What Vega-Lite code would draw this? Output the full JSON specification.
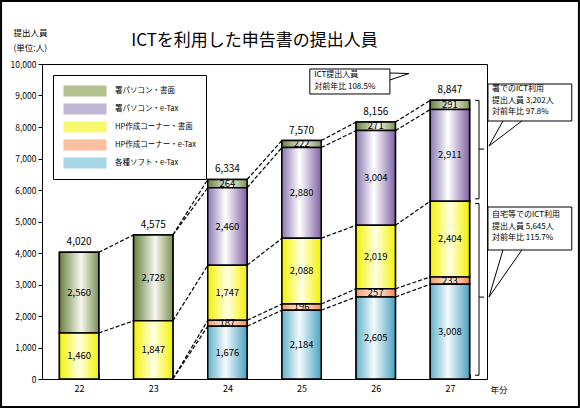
{
 "$schema": "https://vega.github.io/schema/vega-lite/v6.json",
 "width": 445, "height": 315,
 "autosize": "none",
 "padding": {"left": 42, "top": 64, "right": 93, "bottom": 29},
 "background": "white",
 "title": {"text": "ICTを利用した申告書の提出人員", "font": "Noto Sans CJK JP", "fontSize": 17, "fontWeight": "normal", "color": "black", "anchor": "middle", "frame": "group", "baseline": "bottom", "dx": -10, "dy": 71},
 "config": {
  "view": {"stroke": "black", "strokeWidth": 1},
  "font": "Noto Sans CJK JP",
  "text": {"font": "Noto Sans CJK JP", "color": "black"},
  "axis": {"domainColor": "black", "tickColor": "black", "labelColor": "black", "titleColor": "black", "labelFont": "Noto Sans CJK JP", "titleFont": "Noto Sans CJK JP", "grid": false}
 },
 "resolve": {"axis": {"x": "independent", "y": "independent"}},
 "datasets": {
  "bars": [
   {"year": "22", "署パソコン・書面": 2560, "HP作成コーナー・書面": 1460},
   {"year": "23", "署パソコン・書面": 2728, "HP作成コーナー・書面": 1847},
   {"year": "24", "各種ソフト・e-Tax": 1676, "HP作成コーナー・e-Tax": 187, "HP作成コーナー・書面": 1747, "署パソコン・e-Tax": 2460, "署パソコン・書面": 264},
   {"year": "25", "各種ソフト・e-Tax": 2184, "HP作成コーナー・e-Tax": 196, "HP作成コーナー・書面": 2088, "署パソコン・e-Tax": 2880, "署パソコン・書面": 222},
   {"year": "26", "各種ソフト・e-Tax": 2605, "HP作成コーナー・e-Tax": 257, "HP作成コーナー・書面": 2019, "署パソコン・e-Tax": 3004, "署パソコン・書面": 271},
   {"year": "27", "各種ソフト・e-Tax": 3008, "HP作成コーナー・e-Tax": 233, "HP作成コーナー・書面": 2404, "署パソコン・e-Tax": 2911, "署パソコン・書面": 291}
  ],
  "links": [
   {"from": "22", "to": "23", "a": 1460, "b": 1847},
   {"from": "22", "to": "23", "a": 4020, "b": 4575},
   {"from": "23", "to": "24", "a": 0, "b": 1676},
   {"from": "23", "to": "24", "a": 0, "b": 1863},
   {"from": "23", "to": "24", "a": 1847, "b": 3610},
   {"from": "23", "to": "24", "a": 4575, "b": 6070},
   {"from": "23", "to": "24", "a": 4575, "b": 6334},
   {"from": "24", "to": "25", "a": 1676, "b": 2184},
   {"from": "24", "to": "25", "a": 1863, "b": 2380},
   {"from": "24", "to": "25", "a": 3610, "b": 4468},
   {"from": "24", "to": "25", "a": 6070, "b": 7348},
   {"from": "24", "to": "25", "a": 6334, "b": 7570},
   {"from": "25", "to": "26", "a": 2184, "b": 2605},
   {"from": "25", "to": "26", "a": 2380, "b": 2862},
   {"from": "25", "to": "26", "a": 4468, "b": 4881},
   {"from": "25", "to": "26", "a": 7348, "b": 7885},
   {"from": "25", "to": "26", "a": 7570, "b": 8156},
   {"from": "26", "to": "27", "a": 2605, "b": 3008},
   {"from": "26", "to": "27", "a": 2862, "b": 3241},
   {"from": "26", "to": "27", "a": 4881, "b": 5645},
   {"from": "26", "to": "27", "a": 7885, "b": 8556},
   {"from": "26", "to": "27", "a": 8156, "b": 8847}
  ],
  "braces": [
   {"y0": 8847, "y1": 5720, "m": 7300},
   {"y0": 5570, "y1": 120, "m": 2600}
  ]
 },
 "layer": [
  {
   "data": {"name": "bars"},
   "transform": [
    {"fold": ["各種ソフト・e-Tax", "HP作成コーナー・e-Tax", "HP作成コーナー・書面", "署パソコン・e-Tax", "署パソコン・書面"], "as": ["series", "value"]},
    {"filter": {"field": "value", "valid": true}},
    {"stack": "value", "groupby": ["year"], "as": ["lo", "hi"]}
   ],
   "resolve": {"axis": {"x": "independent", "y": "independent"}},
   "layer": [
    {
     "mark": {"type": "bar", "stroke": "black", "strokeWidth": 1.5},
     "encoding": {
      "x": {"field": "year", "type": "ordinal", "title": "年分",
       "scale": {"paddingInner": 0.47, "paddingOuter": 0.235},
       "axis": {"title": "年分", "titleX": 448, "titleY": 10, "titleAlign": "left", "titleBaseline": "middle", "titleFontSize": 8.5, "titleFontWeight": "normal", "labelAngle": 0, "labelFontSize": 9, "tickBand": "extent", "tickSize": -5, "labelPadding": 10}},
      "y": {"field": "lo", "type": "quantitative",
       "scale": {"domain": [0, 10000], "nice": false},
       "axis": {"title": ["提出人員", "(単位:人)"], "titleAngle": 0, "titleAlign": "left", "titleBaseline": "middle", "titleX": -29, "titleY": -32, "titleFontSize": 8.5, "titleFontWeight": "normal", "titleLineHeight": 15, "format": ",.0f", "values": [0, 1000, 2000, 3000, 4000, 5000, 6000, 7000, 8000, 9000, 10000], "tickSize": 4, "labelPadding": 2, "labelFontSize": 8.5}},
      "y2": {"field": "hi"},
      "color": {"field": "series", "type": "nominal",
       "scale": {
        "domain": ["署パソコン・書面", "署パソコン・e-Tax", "HP作成コーナー・書面", "HP作成コーナー・e-Tax", "各種ソフト・e-Tax"],
        "range": ["#b4c290", "#c2b6d6", "#f8f870", "#f8c0a0", "#a8d6e4"]
       },
       "legend": {"orient": "none", "legendX": 11, "legendY": 11, "title": null, "symbolType": "M-4.3,-1.1H4.3V1.1H-4.3Z", "symbolSize": 100, "symbolStrokeColor": "black", "symbolStrokeWidth": 2, "symbolOffset": 16, "labelOffset": 24, "clipHeight": 12, "labelFont": "Noto Sans CJK JP", "labelFontSize": 7.5, "labelColor": "black", "rowPadding": 6, "padding": 10, "strokeColor": "black", "fillColor": "white",
        "encode": {"symbols": {"update": {"fill": [
         {"test": "datum.value === '署パソコン・書面'", "value": {"gradient": "linear", "x1": 0, "y1": 0, "x2": 1, "y2": 0, "stops": [{"offset": 0, "color": "#6a8040"}, {"offset": 0.55, "color": "#f6f7f0"}, {"offset": 1, "color": "#7d9150"}]}},
         {"test": "datum.value === '署パソコン・e-Tax'", "value": {"gradient": "linear", "x1": 0, "y1": 0, "x2": 1, "y2": 0, "stops": [{"offset": 0, "color": "#8a7ab2"}, {"offset": 0.45, "color": "#ffffff"}, {"offset": 1, "color": "#8062a4"}]}},
         {"test": "datum.value === 'HP作成コーナー・書面'", "value": {"gradient": "linear", "x1": 0, "y1": 0, "x2": 1, "y2": 0, "stops": [{"offset": 0, "color": "#f2f200"}, {"offset": 0.5, "color": "#ffffe6"}, {"offset": 1, "color": "#f2f200"}]}},
         {"test": "datum.value === 'HP作成コーナー・e-Tax'", "value": {"gradient": "linear", "x1": 0, "y1": 0, "x2": 1, "y2": 0, "stops": [{"offset": 0, "color": "#f29a68"}, {"offset": 0.5, "color": "#fff2ea"}, {"offset": 1, "color": "#f08a58"}]}},
         {"value": {"gradient": "linear", "x1": 0, "y1": 0, "x2": 1, "y2": 0, "stops": [{"offset": 0, "color": "#62b2cc"}, {"offset": 0.45, "color": "#f4fafc"}, {"offset": 1, "color": "#4aa2c2"}]}}
        ]}}}
       }
      }
     }
    },
    {
     "transform": [{"filter": {"field": "series", "equal": "署パソコン・書面"}}],
     "mark": {"type": "bar", "stroke": "black", "strokeWidth": 1.5, "fill": {"gradient": "linear", "x1": 0, "y1": 0, "x2": 1, "y2": 0, "stops": [{"offset": 0, "color": "#6a8040"}, {"offset": 0.55, "color": "#f6f7f0"}, {"offset": 1, "color": "#7d9150"}]}},
     "encoding": {"x": {"field": "year", "type": "ordinal", "axis": null}, "y": {"field": "lo", "type": "quantitative", "axis": null}, "y2": {"field": "hi"}}
    },
    {
     "transform": [{"filter": {"field": "series", "equal": "署パソコン・e-Tax"}}],
     "mark": {"type": "bar", "stroke": "black", "strokeWidth": 1.5, "fill": {"gradient": "linear", "x1": 0, "y1": 0, "x2": 1, "y2": 0, "stops": [{"offset": 0, "color": "#8a7ab2"}, {"offset": 0.45, "color": "#ffffff"}, {"offset": 1, "color": "#8062a4"}]}},
     "encoding": {"x": {"field": "year", "type": "ordinal", "axis": null}, "y": {"field": "lo", "type": "quantitative", "axis": null}, "y2": {"field": "hi"}}
    },
    {
     "transform": [{"filter": {"field": "series", "equal": "HP作成コーナー・書面"}}],
     "mark": {"type": "bar", "stroke": "black", "strokeWidth": 1.5, "fill": {"gradient": "linear", "x1": 0, "y1": 0, "x2": 1, "y2": 0, "stops": [{"offset": 0, "color": "#f2f200"}, {"offset": 0.5, "color": "#ffffe6"}, {"offset": 1, "color": "#f2f200"}]}},
     "encoding": {"x": {"field": "year", "type": "ordinal", "axis": null}, "y": {"field": "lo", "type": "quantitative", "axis": null}, "y2": {"field": "hi"}}
    },
    {
     "transform": [{"filter": {"field": "series", "equal": "HP作成コーナー・e-Tax"}}],
     "mark": {"type": "bar", "stroke": "black", "strokeWidth": 1.5, "fill": {"gradient": "linear", "x1": 0, "y1": 0, "x2": 1, "y2": 0, "stops": [{"offset": 0, "color": "#f29a68"}, {"offset": 0.5, "color": "#fff2ea"}, {"offset": 1, "color": "#f08a58"}]}},
     "encoding": {"x": {"field": "year", "type": "ordinal", "axis": null}, "y": {"field": "lo", "type": "quantitative", "axis": null}, "y2": {"field": "hi"}}
    },
    {
     "transform": [{"filter": {"field": "series", "equal": "各種ソフト・e-Tax"}}],
     "mark": {"type": "bar", "stroke": "black", "strokeWidth": 1.5, "fill": {"gradient": "linear", "x1": 0, "y1": 0, "x2": 1, "y2": 0, "stops": [{"offset": 0, "color": "#62b2cc"}, {"offset": 0.45, "color": "#f4fafc"}, {"offset": 1, "color": "#4aa2c2"}]}},
     "encoding": {"x": {"field": "year", "type": "ordinal", "axis": null}, "y": {"field": "lo", "type": "quantitative", "axis": null}, "y2": {"field": "hi"}}
    },
    {
     "transform": [{"fold": ["lo", "hi"], "as": ["edge", "pos"]}],
     "mark": {"type": "text", "fontSize": 9.5, "baseline": "middle"},
     "encoding": {
      "x": {"field": "year", "type": "ordinal", "axis": null},
      "y": {"aggregate": "mean", "field": "pos", "type": "quantitative", "stack": null, "axis": null},
      "detail": {"field": "series"},
      "text": {"field": "value", "type": "quantitative", "format": ","}
     }
    },
    {
     "mark": {"type": "text", "fontSize": 10, "baseline": "bottom", "dy": -5},
     "encoding": {
      "x": {"field": "year", "type": "ordinal", "axis": null},
      "y": {"aggregate": "sum", "field": "value", "type": "quantitative", "stack": null, "axis": null},
      "text": {"aggregate": "sum", "field": "value", "type": "quantitative", "format": ","}
     }
    }
   ]
  },
  {
   "data": {"name": "links"},
   "mark": {"type": "rule", "stroke": "black", "strokeWidth": 1.2, "strokeDash": [4, 2]},
   "encoding": {
    "x": {"field": "from", "type": "ordinal", "bandPosition": 1, "axis": null},
    "x2": {"field": "to", "bandPosition": 0},
    "y": {"field": "a", "type": "quantitative", "axis": null},
    "y2": {"field": "b"}
   }
  },
  {
   "data": {"name": "braces"},
   "mark": {"type": "rule", "stroke": "black", "strokeWidth": 1},
   "encoding": {"x": {"datum": "27", "type": "ordinal", "bandPosition": 1.24, "axis": null}, "y": {"field": "y0", "type": "quantitative", "axis": null}, "y2": {"field": "y1"}}
  },
  {
   "data": {"name": "braces"},
   "mark": {"type": "rule", "stroke": "black", "strokeWidth": 1},
   "encoding": {"x": {"datum": "27", "type": "ordinal", "bandPosition": 1.14, "axis": null}, "x2": {"datum": "27", "bandPosition": 1.24}, "y": {"field": "y0", "type": "quantitative", "axis": null}}
  },
  {
   "data": {"name": "braces"},
   "mark": {"type": "rule", "stroke": "black", "strokeWidth": 1},
   "encoding": {"x": {"datum": "27", "type": "ordinal", "bandPosition": 1.14, "axis": null}, "x2": {"datum": "27", "bandPosition": 1.24}, "y": {"field": "y1", "type": "quantitative", "axis": null}}
  },
  {
   "data": {"name": "braces"},
   "mark": {"type": "rule", "stroke": "black", "strokeWidth": 1},
   "encoding": {"x": {"datum": "27", "type": "ordinal", "bandPosition": 1.24, "axis": null}, "x2": {"datum": "27", "bandPosition": 1.37}, "y": {"field": "m", "type": "quantitative", "axis": null}}
  },
  {
   "data": {"values": [{}]},
   "mark": {"type": "rect", "fill": "white", "stroke": "black", "strokeWidth": 1},
   "encoding": {"x": {"datum": "25", "type": "ordinal", "bandPosition": 0.71, "axis": null}, "x2": {"datum": "26", "bandPosition": 0.86}, "y": {"datum": 9841, "type": "quantitative", "axis": null}, "y2": {"datum": 9048}}
  },
  {
   "data": {"values": [{}]},
   "mark": {"type": "text", "text": ["ICT提出人員", "対前年比  108.5%"], "align": "left", "baseline": "middle", "lineHeight": 12, "fontSize": 8},
   "encoding": {"x": {"datum": "25", "type": "ordinal", "bandPosition": 0.82, "axis": null}, "y": {"datum": 9635, "type": "quantitative", "axis": null}}
  },
  {
   "data": {"values": [{}]},
   "mark": {"type": "rule", "stroke": "black", "strokeWidth": 1},
   "encoding": {"x": {"datum": "26", "type": "ordinal", "bandPosition": 0.86, "axis": null}, "x2": {"datum": "26", "bandPosition": 1.345}, "y": {"datum": 9714, "type": "quantitative", "axis": null}, "y2": {"datum": 9698}}
  },
  {
   "data": {"values": [{}]},
   "mark": {"type": "rule", "stroke": "black", "strokeWidth": 1},
   "encoding": {"x": {"datum": "26", "type": "ordinal", "bandPosition": 0.86, "axis": null}, "x2": {"datum": "26", "bandPosition": 1.345}, "y": {"datum": 9492, "type": "quantitative", "axis": null}, "y2": {"datum": 9698}}
  },
  {
   "data": {"values": [{}]},
   "mark": {"type": "rect", "fill": "white", "stroke": "black", "strokeWidth": 1},
   "encoding": {"x": {"datum": "27", "type": "ordinal", "bandPosition": 1.468, "axis": null}, "x2": {"datum": "27", "bandPosition": 3.6}, "y": {"datum": 9365, "type": "quantitative", "axis": null}, "y2": {"datum": 8190}}
  },
  {
   "data": {"values": [{}]},
   "mark": {"type": "text", "text": ["署でのICT利用", "提出人員  3,202人", "対前年比  97.8%"], "align": "left", "baseline": "middle", "lineHeight": 11.5, "fontSize": 8},
   "encoding": {"x": {"datum": "27", "type": "ordinal", "bandPosition": 1.57, "axis": null}, "y": {"datum": 9206, "type": "quantitative", "axis": null}}
  },
  {
   "data": {"values": [{}]},
   "mark": {"type": "rule", "stroke": "black", "strokeWidth": 1},
   "encoding": {"x": {"datum": "27", "type": "ordinal", "bandPosition": 1.85, "axis": null}, "x2": {"datum": "27", "bandPosition": 1.494}, "y": {"datum": 8190, "type": "quantitative", "axis": null}, "y2": {"datum": 7397}}
  },
  {
   "data": {"values": [{}]},
   "mark": {"type": "rule", "stroke": "black", "strokeWidth": 1},
   "encoding": {"x": {"datum": "27", "type": "ordinal", "bandPosition": 2.33, "axis": null}, "x2": {"datum": "27", "bandPosition": 1.494}, "y": {"datum": 8190, "type": "quantitative", "axis": null}, "y2": {"datum": 7397}}
  },
  {
   "data": {"values": [{}]},
   "mark": {"type": "rect", "fill": "white", "stroke": "black", "strokeWidth": 1},
   "encoding": {"x": {"datum": "27", "type": "ordinal", "bandPosition": 1.468, "axis": null}, "x2": {"datum": "27", "bandPosition": 3.6}, "y": {"datum": 5460, "type": "quantitative", "axis": null}, "y2": {"datum": 4095}}
  },
  {
   "data": {"values": [{}]},
   "mark": {"type": "text", "text": ["自宅等でのICT利用", "提出人員  5,645人", "対前年比  115.7%"], "align": "left", "baseline": "middle", "lineHeight": 11.5, "fontSize": 8},
   "encoding": {"x": {"datum": "27", "type": "ordinal", "bandPosition": 1.57, "axis": null}, "y": {"datum": 5206, "type": "quantitative", "axis": null}}
  },
  {
   "data": {"values": [{}]},
   "mark": {"type": "rule", "stroke": "black", "strokeWidth": 1},
   "encoding": {"x": {"datum": "27", "type": "ordinal", "bandPosition": 1.85, "axis": null}, "x2": {"datum": "27", "bandPosition": 1.494}, "y": {"datum": 4095, "type": "quantitative", "axis": null}, "y2": {"datum": 2603}}
  },
  {
   "data": {"values": [{}]},
   "mark": {"type": "rule", "stroke": "black", "strokeWidth": 1},
   "encoding": {"x": {"datum": "27", "type": "ordinal", "bandPosition": 2.33, "axis": null}, "x2": {"datum": "27", "bandPosition": 1.494}, "y": {"datum": 4095, "type": "quantitative", "axis": null}, "y2": {"datum": 2603}}
  },
  {
   "data": {"values": [{}]},
   "mark": {"type": "rect", "fill": null, "stroke": "black", "strokeWidth": 2},
   "encoding": {"x": {"datum": "22", "type": "ordinal", "bandPosition": -1.485, "axis": null}, "x2": {"datum": "27", "bandPosition": 3.782}, "y": {"datum": 12000, "type": "quantitative", "axis": null}, "y2": {"datum": -889}}
  }
 ]
}
